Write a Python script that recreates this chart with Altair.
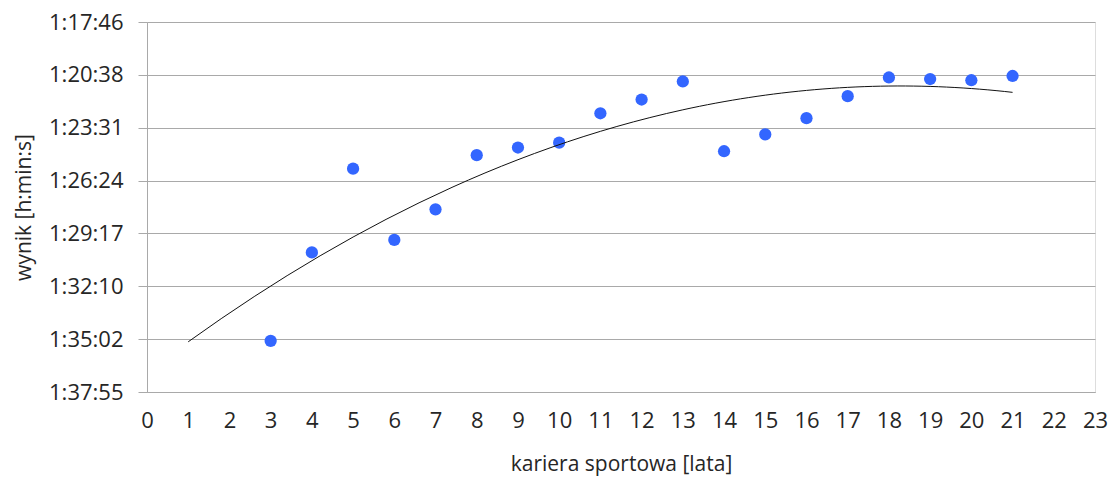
import altair as alt
import pandas as pd

years = [3, 4, 5, 6, 7, 8, 9, 10, 11, 12, 13, 14, 15, 16, 17, 18, 19, 20, 21]
result_seconds = [5708, 5419, 5145, 5378, 5278, 5101, 5076, 5060, 4964, 4919,
                  4860, 5088, 5033, 4980, 4908, 4847, 4852, 4856, 4842]

y_tick_values = [4665.6, 4838.4, 5011.2, 5184.0, 5356.8, 5529.6, 5702.4, 5875.2]
y_tick_labels = ["1:17:46", "1:20:38", "1:23:31", "1:26:24", "1:29:17",
                 "1:32:10", "1:35:02", "1:37:55"]
x_tick_values = list(range(0, 24))

df = pd.DataFrame({"x": years, "y": result_seconds})

label_array = "[" + ",".join("'%s'" % s for s in y_tick_labels) + "]"
label_expr = label_array + "[round((datum.value - 4665.6) / 172.8)]"

FONT = "Open Sans"
TEXT = "#262626"
GRID = "#a9a9a9"

x_enc = alt.X(
    "x:Q",
    scale=alt.Scale(domain=[0, 23], nice=False, zero=False),
    axis=alt.Axis(
        values=x_tick_values, title="kariera sportowa [lata]", grid=False,
        ticks=False, domainColor=GRID, labelFont=FONT, labelFontSize=22,
        labelFlush=False, labelColor=TEXT, labelPadding=18, titleFont=FONT,
        titleFontSize=21, titleFontWeight="normal", titleColor=TEXT,
        titlePadding=22,
    ),
)
y_enc = alt.Y(
    "y:Q",
    scale=alt.Scale(domain=[y_tick_values[0], y_tick_values[-1]], reverse=True,
                    nice=False, zero=False),
    axis=alt.Axis(
        values=y_tick_values, labelExpr=label_expr, title="wynik [h:min:s]",
        grid=True, gridColor=GRID, tickColor=GRID, tickSize=9, domainColor=GRID,
        labelFont=FONT, labelFontSize=22, labelFlush=False, labelColor=TEXT,
        labelPadding=15, titleFont=FONT, titleFontSize=21,
        titleFontWeight="normal", titleColor=TEXT, titlePadding=14,
    ),
)

points = alt.Chart(df).mark_circle(size=150, color="#3366ff", opacity=1).encode(
    x=x_enc, y=y_enc
)

trend = (
    alt.Chart(df)
    .transform_regression("x", "y", method="poly", order=2, extent=[1, 21])
    .mark_line(color="#111111", strokeWidth=1)
    .encode(x="x:Q", y="y:Q")
)

chart = (
    alt.layer(points, trend)
    .properties(
        width=948, height=370,
        autosize=alt.AutoSizeParams(type="none"),
        padding={"left": 147, "top": 22, "right": 17, "bottom": 89},
    )
    .configure_view(stroke=None)
    .configure(background="white")
)

chart.save("out.html", embed_options={"renderer": "svg", "actions": False})
